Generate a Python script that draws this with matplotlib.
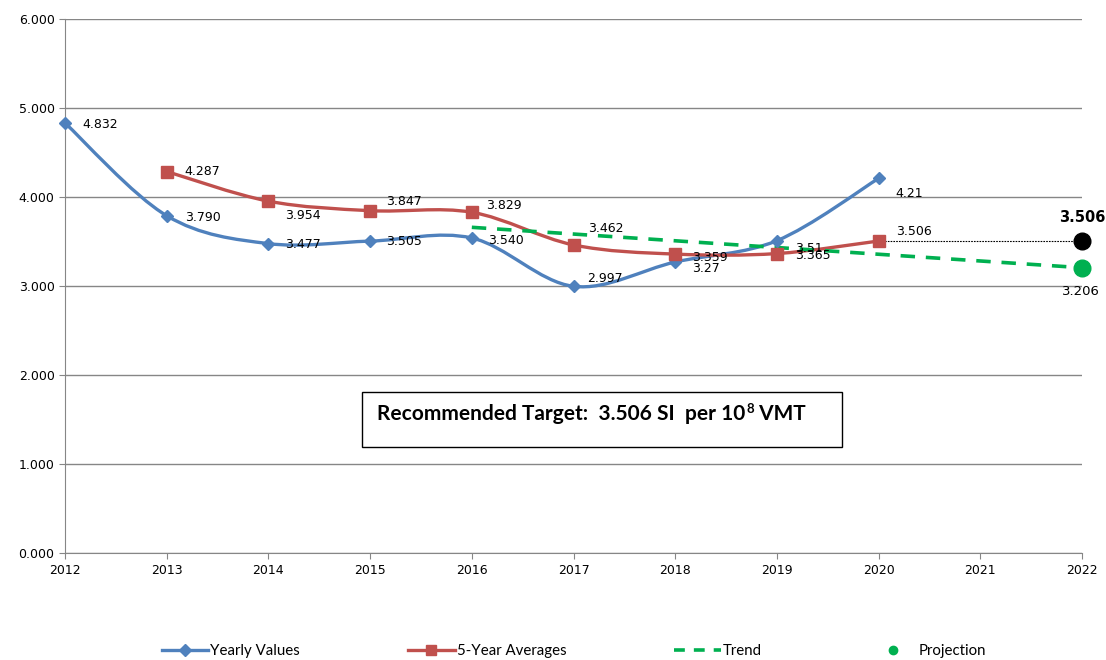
import numpy as np
import matplotlib
matplotlib.use("Agg")
from matplotlib import pyplot as plt
from matplotlib.path import Path
from matplotlib.patches import PathPatch
from matplotlib.lines import Line2D

# data
years = [2012, 2013, 2014, 2015, 2016, 2017, 2018, 2019, 2020]
yearly = [4.832, 3.790, 3.477, 3.505, 3.540, 2.997, 3.27, 3.51, 4.21]
yearly_labels = ["4.832", "3.790", "3.477", "3.505", "3.540", "2.997", "3.27", "3.51", "4.21"]

avg_years = [2013, 2014, 2015, 2016, 2017, 2018, 2019, 2020]
averages = [4.287, 3.954, 3.847, 3.829, 3.462, 3.359, 3.365, 3.506]
avg_labels = ["4.287", "3.954", "3.847", "3.829", "3.462", "3.359", "3.365", "3.506"]

trend_years = [2016, 2022]
trend_vals = [3.66, 3.206]

proj_year = 2022
proj_val = 3.206
target_val = 3.506

# label offsets in pixels (dx, dy) - placement only
yearly_off = [(17, -1), (18, -2), (17, -1), (16, 0), (16, -3), (14, 8), (17, -6), (18, -8), (17, -15)]
avg_off = [(18, 0), (17, -14), (16, 9), (14, 7), (15, 16), (17, -3), (18, -2), (17, 10)]

BLUE = "#4F81BD"
RED = "#C0504D"
GREEN = "#00B050"
GRID = "#868686"


def smooth_path(xs, ys):
    # excel style smoothed line as cubic bezier segments
    pts = np.column_stack([xs, ys]).astype(float)
    n = len(pts)
    verts = [pts[0]]
    codes = [Path.MOVETO]
    for i in range(n - 1):
        p0 = pts[i - 1] if i > 0 else pts[i]
        p1 = pts[i]
        p2 = pts[i + 1]
        p3 = pts[i + 2] if i + 2 < n else pts[i + 1]
        c1 = p1 + (p2 - p0) / 6.0
        c2 = p2 - (p3 - p1) / 6.0
        verts += [c1, c2, p2]
        codes += [Path.CURVE4] * 3
    return Path(verts, codes)


fig = plt.figure(figsize=(11.06, 6.6), dpi=100)
ax = fig.add_axes([0.0588, 0.1621, 0.9195, 0.809])

ax.set_xlim(2012, 2022)
ax.set_ylim(0, 6)
ax.set_yticks(range(0, 7))
ax.set_yticklabels(["%.3f" % v for v in range(0, 7)])
ax.set_xticks(range(2012, 2023))
ax.grid(axis="y", color=GRID, linewidth=1)
ax.set_axisbelow(True)
for s in ["top", "right"]:
    ax.spines[s].set_visible(False)
for s in ["left", "bottom"]:
    ax.spines[s].set_color(GRID)
ax.tick_params(axis="both", colors=GRID, length=4, labelsize=9, labelcolor="black")
ax.tick_params(axis="x", pad=4)

# smoothed lines
ax.add_patch(PathPatch(smooth_path(years, yearly), fill=False, edgecolor=BLUE, linewidth=2.4, zorder=3))
ax.add_patch(PathPatch(smooth_path(avg_years, averages), fill=False, edgecolor=RED, linewidth=2.4, zorder=3))

ax.plot(years, yearly, linestyle="none", marker="D", markersize=6.5, color=BLUE, zorder=4, clip_on=False)
ax.plot(avg_years, averages, linestyle="none", marker="s", markersize=8, color=RED, zorder=4, clip_on=False)

ax.plot(trend_years, trend_vals, color=GREEN, linestyle=(0, (4, 3)), linewidth=2.6, zorder=3)

# target line and points
ax.plot([avg_years[-1], proj_year], [target_val, target_val], color="black", linestyle=(0, (1.5, 1)), linewidth=0.8, zorder=2)
ax.plot([proj_year], [target_val], marker="o", markersize=12, color="black", linestyle="none", zorder=5, clip_on=False)
ax.plot([proj_year], [proj_val], marker="o", markersize=12, color=GREEN, linestyle="none", zorder=5, clip_on=False)

for x, y, t, (dx, dy) in zip(years, yearly, yearly_labels, yearly_off):
    ax.annotate(t, (x, y), xytext=(dx * 0.72, dy * 0.72), textcoords="offset points",
                ha="left", va="center", fontsize=9, zorder=6)
for x, y, t, (dx, dy) in zip(avg_years, averages, avg_labels, avg_off):
    ax.annotate(t, (x, y), xytext=(dx * 0.72, dy * 0.72), textcoords="offset points",
                ha="left", va="center", fontsize=9, zorder=6)

ax.annotate("%.3f" % target_val, (proj_year, target_val), xytext=(0, 17), textcoords="offset points",
            ha="center", va="center", fontsize=10.5, fontweight="bold", annotation_clip=False)
ax.annotate("%.3f" % proj_val, (proj_year, proj_val), xytext=(-1, -17), textcoords="offset points",
            ha="center", va="center", fontsize=9.5, annotation_clip=False)

# target box
ax.add_patch(plt.Rectangle((0.292, 0.1985), 0.472, 0.103, transform=ax.transAxes,
                           fill=True, facecolor="white", edgecolor="black", linewidth=1, zorder=5))
t1 = ax.text(0.307, 0.249, "Recommended Target:  %.3f SI  per 10" % target_val, transform=ax.transAxes,
             ha="left", va="baseline", fontsize=15, fontweight="bold", family="Lato", zorder=6)
t8 = ax.annotate("8", xy=(1.0, 0.0), xycoords=t1, xytext=(0.5, 8), textcoords="offset points",
                 ha="left", va="baseline", fontsize=9.5, fontweight="bold", family="Lato", zorder=6)
ax.annotate(" VMT", xy=(1.0, 0.0), xycoords=(t8, t1), xytext=(0, 0), textcoords="offset points",
            ha="left", va="bottom", fontsize=15, fontweight="bold", family="Lato", zorder=6)

# legend
handles = [
    Line2D([], [], color=BLUE, linewidth=2.4, marker="D", markersize=6),
    Line2D([], [], color=RED, linewidth=2.4, marker="s", markersize=7),
    Line2D([], [], color=GREEN, linewidth=2.6, linestyle=(0, (3, 2.5))),
    Line2D([], [], color=GREEN, marker="o", markersize=6, linestyle="none"),
]
fig.legend(handles, ["Yearly Values", "5-Year Averages", "Trend", "Projection"],
           loc="center", bbox_to_anchor=(0.519, 0.0136), ncol=4, frameon=False,
           prop={"family": "Lato", "size": 10.8}, handlelength=3.1, handletextpad=0.15,
           columnspacing=7.2)

fig.savefig("out.png", dpi=100)
